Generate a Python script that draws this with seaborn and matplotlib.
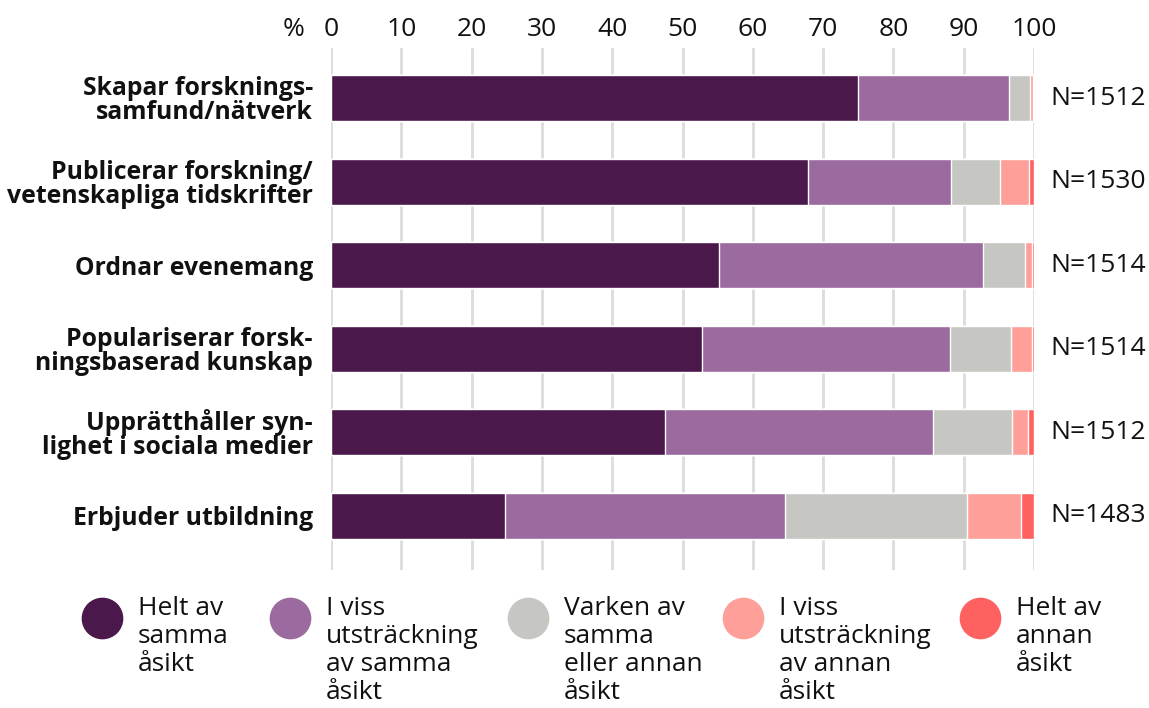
import numpy as np
import pandas as pd
import matplotlib
matplotlib.use("Agg")
import matplotlib.pyplot as plt
import matplotlib.transforms as mtransforms
import seaborn as sns
from matplotlib.lines import Line2D

# data (percent)
categories = [
    "Skapar forsknings-\nsamfund/nätverk",
    "Publicerar forskning/\nvetenskapliga tidskrifter",
    "Ordnar evenemang",
    "Populariserar forsk-\nningsbaserad kunskap",
    "Upprätthåller syn-\nlighet i sociala medier",
    "Erbjuder utbildning",
]
n_labels = ["N=1512", "N=1530", "N=1514", "N=1514", "N=1512", "N=1483"]

helt_samma = [75.0, 67.9, 55.2, 52.8, 47.5, 24.8]
viss_samma = [21.4, 20.3, 37.5, 35.2, 38.1, 39.8]
varken = [3.0, 6.9, 6.0, 8.7, 11.3, 25.9]
viss_annan = [0.4, 4.2, 1.0, 3.0, 2.2, 7.7]
helt_annan = [0.2, 0.7, 0.3, 0.3, 0.9, 1.8]

series_names = [
    "Helt av\nsamma\nåsikt",
    "I viss\nutsträckning\nav samma\nåsikt",
    "Varken av\nsamma\neller annan\nåsikt",
    "I viss\nutsträckning\nav annan\nåsikt",
    "Helt av\nannan\nåsikt",
]
colors = ["#4a184a", "#9b6a9f", "#c6c6c2", "#ff9f99", "#ff6161"]

sns.set_theme(style="white")
plt.rcParams["font.family"] = ["Open Sans", "DejaVu Sans"]
TXT = "#111111"

values = np.array([helt_samma, viss_samma, varken, viss_annan, helt_annan])
cum = np.cumsum(values, axis=0)

fig = plt.figure(figsize=(11.49, 7.08), dpi=100)
ax = fig.add_axes([331 / 1149, 1 - 570 / 708, (1034 - 331) / 1149, (570 - 48) / 708])

# draw cumulative bars from the widest down so each segment shows
for i in range(len(series_names) - 1, -1, -1):
    df = pd.DataFrame({"cat": categories, "val": cum[i]})
    sns.barplot(data=df, x="val", y="cat", orient="h", color=colors[i],
                width=0.55, saturation=1, ax=ax, zorder=3)

ax.set_xlim(0, 100)
ax.set_ylim(5.65, -0.6)
ax.set_xticks(range(0, 101, 10))
ax.xaxis.tick_top()
ax.tick_params(axis="x", length=0, labelsize=19, pad=4, colors=TXT)
ax.tick_params(axis="y", length=0, labelsize=17.8, pad=13, colors=TXT)
for lbl in ax.get_yticklabels():
    lbl.set_fontweight("bold")
    lbl.set_linespacing(0.95)
ax.grid(axis="x", color="#dcdcdc", linewidth=2, zorder=0)
ax.grid(axis="y", visible=False)
for s in ax.spines.values():
    s.set_visible(False)
ax.set_xlabel("")
ax.set_ylabel("")

# "%" sits on the same baseline as the top tick labels
trans = mtransforms.offset_copy(ax.get_xaxis_transform(), fig=fig, y=4, units="points")
ax.text(-3.8, 1.0, "%", transform=trans, fontsize=19, ha="right", va="bottom", color=TXT)

for i, n in enumerate(n_labels):
    ax.text(102.3, i, n, fontsize=19, va="center", ha="left", color=TXT)

# legend: circle + multi-line label, placed by hand
leg_x = [102, 290, 528, 743, 980]
for x, name, c in zip(leg_x, series_names, colors):
    fig.add_artist(Line2D([x / 1149], [1 - 618 / 708], marker="o", markersize=29,
                          color=c, linestyle="", transform=fig.transFigure))
    fig.text((x + 36) / 1149, 1 - 596 / 708, name, fontsize=19, color=TXT,
             ha="left", va="top", linespacing=1.15)

fig.savefig("out.png", dpi=100)
